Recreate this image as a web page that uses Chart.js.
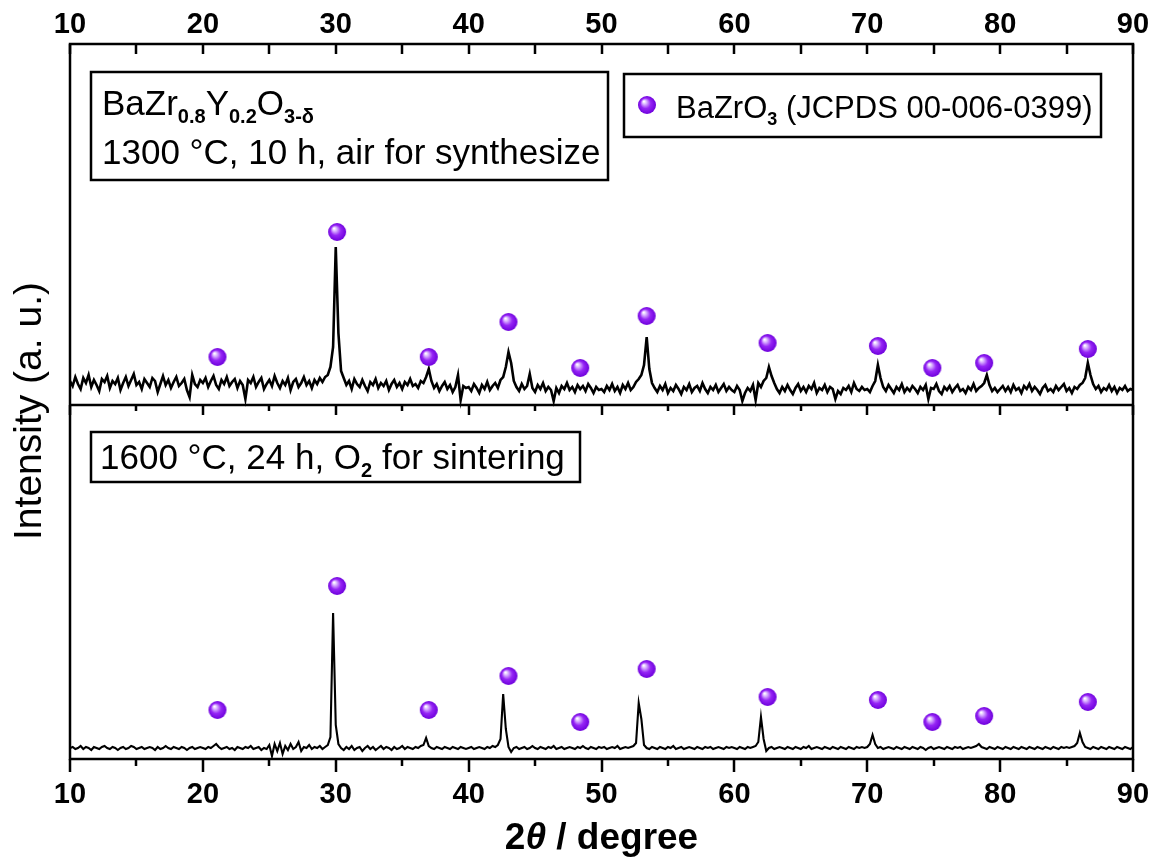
<!DOCTYPE html>
<html>
<head>
<meta charset="utf-8">
<script src="https://cdn.jsdelivr.net/npm/chart.js@4.4.1/dist/chart.umd.min.js"></script>
<style>
  html, body { margin: 0; padding: 0; background: #fff; }
</style>
</head>
<body>
<canvas id="xrd" width="1156" height="861"></canvas>
<script>
// Scan settings (2 theta, degree)
const scanStart = 10;
const scanStep = 0.2;

// 1300 C synthesized powder (upper pattern), counts a.u.
const synthCounts = [
  24,19,28,21,16,27,22,30,18,25, 20,14,26,23,29,17,24,21,27,15,
  22,28,19,25,31,20,23,16,26,22, 18,27,24,13,21,29,20,25,17,23,
  28,19,22,26,15,8,30,21,18,25,  22,27,18,24,29,20,16,25,21,28,
  19,23,26,17,24,20,6,25,22,28,  18,23,27,16,21,25,19,29,22,17,
  24,20,27,15,23,26,18,22,28,20, 24,17,25,21,27,23,28,30,38,58,
  158,72,34,27,20,24,16,26,21,18, 25,19,14,23,20,26,17,22,19,24,
  15,21,25,18,22,16,23,20,26,19, 21,17,24,22,28,36,24,17,21,14,
  19,23,16,20,13,18,30,5,19,17,  18,14,21,17,12,20,16,23,15,19,
  22,17,25,28,38,53,42,24,18,14, 21,16,19,31,17,13,20,16,22,14,
  18,15,4,17,12,19,16,22,15,18,  13,20,16,19,14,21,17,12,18,15,
  16,13,19,15,21,14,18,12,20,16, 22,15,18,23,26,30,40,68,36,22,
  17,13,19,15,21,12,17,14,20,16, 11,18,15,21,13,17,19,14,22,16,
  12,18,15,20,13,17,21,14,18,15, 13,19,15,4,12,17,14,20,5,22,
  18,24,27,38,29,22,16,12,18,14, 20,15,11,17,21,14,18,13,19,16,
  22,12,17,15,20,13,18,16,6,14,  11,17,15,19,13,22,16,14,18,15,
  16,13,19,24,40,27,18,14,20,16, 12,18,15,21,13,17,14,19,16,12,
  18,15,20,6,17,16,21,14,11,18,  15,19,13,17,20,14,16,12,18,15,
  21,14,17,19,22,30,20,14,17,13, 16,19,14,18,13,20,15,17,12,19,
  16,21,14,18,15,11,17,20,14,16, 13,19,15,18,21,14,17,12,18,16,
  20,22,27,42,30,21,16,19,13,17, 15,20,14,18,12,17,15,19,14,16,
  15
];

// 1600 C sintered pellet (lower pattern), counts a.u.
const sinterCounts = [
  11,12,10,11,13,10,12,11,9,12, 11,10,12,13,11,10,12,11,9,11,
  12,10,11,13,12,10,11,12,10,11, 12,11,9,12,10,11,13,11,10,12,
  11,10,12,11,9,11,12,10,11,12, 11,10,12,11,13,15,12,10,11,12,
  10,11,9,12,11,10,12,11,13,10, 11,12,9,11,10,14,3,15,8,16,
  5,13,9,15,10,12,17,8,12,11,   14,10,12,11,13,10,12,14,22,146,
  34,15,11,9,12,10,13,9,11,12,  8,11,13,10,12,9,11,13,10,12,
  11,9,12,10,11,13,10,12,11,10, 12,11,13,14,21,13,11,10,12,11,
  10,12,11,10,12,11,10,12,11,10, 11,12,10,11,12,11,10,12,11,13,
  12,14,20,65,30,12,7,11,12,10, 11,12,10,11,13,11,10,12,11,10,
  12,11,13,10,11,12,10,11,12,11, 10,12,11,13,11,10,12,11,10,12,
  11,12,10,11,12,11,13,10,11,12, 11,12,13,16,56,40,14,11,10,12,
  11,10,12,11,10,12,11,13,10,11, 12,10,11,12,11,10,12,11,10,12,
  11,12,10,11,12,11,10,12,11,12, 11,10,12,11,10,12,11,12,13,17,
  42,20,8,11,12,10,11,12,11,10, 12,11,10,12,11,10,12,11,13,10,
  11,12,11,10,12,11,10,12,11,10, 12,11,10,12,11,10,12,11,12,11,
  12,15,24,15,11,12,10,11,12,11, 10,12,11,10,12,11,10,12,11,10,
  12,11,9,11,12,10,11,12,11,10, 12,11,10,12,11,12,10,11,12,11,
  12,13,15,12,11,10,12,11,10,12, 11,10,12,11,10,12,11,10,12,11,
  10,12,11,10,12,11,10,12,11,10, 12,11,10,12,11,12,11,12,13,16,
  26,17,12,11,10,12,11,10,12,11, 10,12,11,10,12,11,10,12,11,10,
  12
];

// BaZrO3 reference reflections (JCPDS 00-006-0399) and marker heights
const peakAngles = [21.1, 30.1, 37.0, 43.0, 48.4, 53.4, 62.5, 70.8, 74.9, 78.8, 86.6];
const synthMarkerHeights = [48, 173, 48, 83, 37, 89, 62, 59, 37, 42, 56];
const sinterMarkerHeights = [49, 173, 49, 83, 37, 90, 62, 59, 37, 43, 57];

// upper pattern is shifted up by this amount
const panelOffset = 354;
const intensityMax = 715;

const textFont = "'Liberation Sans', Arial, sans-serif";

function angleAt(i) {
  return +(scanStart + i * scanStep).toFixed(1);
}

function makeSphere(r) {
  const c = document.createElement('canvas');
  c.width = c.height = 2 * r + 2;
  const g = c.getContext('2d');
  const cx = r + 1, cy = r + 1;
  const grad = g.createRadialGradient(cx - r * 0.35, cy - r * 0.4, r * 0.05, cx, cy, r);
  grad.addColorStop(0, '#ffffff');
  grad.addColorStop(0.22, '#d6acff');
  grad.addColorStop(0.55, '#9626f5');
  grad.addColorStop(1, '#6e00dc');
  g.fillStyle = grad;
  g.beginPath();
  g.arc(cx, cy, r, 0, Math.PI * 2);
  g.fill();
  return c;
}
const sphere = makeSphere(9);

// text with subscripts
function drawRich(ctx, parts, x, y, size) {
  parts.forEach(p => {
    const s = p.sub ? Math.round(size * 0.58) : size;
    ctx.font = (p.sub ? 'bold ' : '') + s + 'px ' + textFont;
    ctx.fillText(p.t, x, y + (p.sub ? size * 0.22 : 0));
    x += ctx.measureText(p.t).width;
  });
}

const decor = {
  id: 'decor',
  afterDraw(chart) {
    const ctx = chart.ctx;
    const a = chart.chartArea;
    const xs = chart.scales.x;
    const divY = Math.round(chart.scales.y.getPixelForValue(panelOffset));
    ctx.save();
    ctx.strokeStyle = '#000';
    ctx.fillStyle = '#000';

    // frame + divider
    ctx.lineWidth = 2.5;
    ctx.strokeRect(a.left, a.top, a.right - a.left, a.bottom - a.top);
    ctx.beginPath();
    ctx.moveTo(a.left, divY);
    ctx.lineTo(a.right, divY);
    ctx.stroke();

    // tick marks
    for (let v = 10; v <= 90; v += 5) {
      const px = Math.round(xs.getPixelForValue(v));
      const major = v % 10 === 0;
      ctx.beginPath();
      ctx.moveTo(px, a.top); ctx.lineTo(px, a.top + 10);
      ctx.moveTo(px, divY); ctx.lineTo(px, divY + (major ? 10 : 6));
      ctx.moveTo(px, a.bottom); ctx.lineTo(px, a.bottom + (major ? 13 : 7));
      ctx.stroke();
    }

    // sample boxes
    ctx.textBaseline = 'alphabetic';
    ctx.textAlign = 'left';
    ctx.strokeRect(91, 72, 517, 108);
    drawRich(ctx, [{t: 'BaZr'}, {t: '0.8', sub: true}, {t: 'Y'}, {t: '0.2', sub: true},
      {t: 'O'}, {t: '3-\u03b4', sub: true}], 102, 115, 35);
    drawRich(ctx, [{t: '1300 \u00b0C, 10 h, air for synthesize'}], 102, 164, 35);

    ctx.strokeRect(624, 74, 477, 63);
    ctx.drawImage(sphere, 647 - sphere.width / 2, 105 - sphere.height / 2);
    drawRich(ctx, [{t: 'BaZrO'}, {t: '3', sub: true}, {t: ' (JCPDS 00-006-0399)'}], 676, 118, 31);

    ctx.strokeRect(91, 432, 489, 50);
    drawRich(ctx, [{t: '1600 \u00b0C, 24 h, O'}, {t: '2', sub: true}, {t: ' for sintering'}], 100, 469, 35);

    // y title
    ctx.save();
    ctx.translate(30, 411);
    ctx.rotate(-Math.PI / 2);
    ctx.textAlign = 'center';
    ctx.textBaseline = 'middle';
    ctx.font = '39px ' + textFont;
    ctx.fillText('Intensity (a. u.)', 0, 0);
    ctx.restore();

    // x title with italic theta
    const pieces = [
      {t: '2', f: 'bold 37px ' + textFont},
      {t: '\u03b8', f: 'italic bold 37px ' + textFont},
      {t: ' / degree', f: 'bold 37px ' + textFont}
    ];
    let w = 0;
    pieces.forEach(p => { ctx.font = p.f; w += ctx.measureText(p.t).width; });
    let x = (a.left + a.right) / 2 - w / 2;
    ctx.textBaseline = 'alphabetic';
    pieces.forEach(p => {
      ctx.font = p.f;
      ctx.fillText(p.t, x, 849);
      x += ctx.measureText(p.t).width;
    });
    ctx.restore();
  }
};

const synthLine = synthCounts.map((v, i) => ({x: angleAt(i), y: v + panelOffset}));
const sinterLine = sinterCounts.map((v, i) => ({x: angleAt(i), y: v}));
const synthMarks = peakAngles.map((t, i) => ({x: t, y: synthMarkerHeights[i] + panelOffset}));
const sinterMarks = peakAngles.map((t, i) => ({x: t, y: sinterMarkerHeights[i]}));

const tickFont = {family: textFont, size: 29, weight: 'bold'};
const noSidePadding = s => { s.paddingLeft = 0; s.paddingRight = 0; };

new Chart(document.getElementById('xrd'), {
  type: 'line',
  data: {
    datasets: [
      {type: 'scatter', label: 'BaZrO3', data: synthMarks, pointStyle: sphere, pointRadius: 9, order: 0},
      {type: 'scatter', label: 'BaZrO3 ', data: sinterMarks, pointStyle: sphere, pointRadius: 9, order: 0},
      {label: '1300 C synthesized', data: synthLine, borderColor: '#000', borderWidth: 2.6,
        pointRadius: 0, tension: 0, fill: false, order: 1},
      {label: '1600 C sintered', data: sinterLine, borderColor: '#000', borderWidth: 2.1,
        pointRadius: 0, tension: 0, fill: false, order: 1}
    ]
  },
  options: {
    responsive: false,
    animation: false,
    devicePixelRatio: 1,
    events: [],
    layout: {padding: {left: 70, right: 23, top: 0, bottom: 0}},
    plugins: {legend: {display: false}, tooltip: {enabled: false}},
    scales: {
      x: {
        type: 'linear', position: 'bottom', min: 10, max: 90,
        ticks: {stepSize: 10, font: tickFont, color: '#000', padding: 19},
        grid: {display: false, drawTicks: false},
        border: {display: false},
        afterFit: s => { s.height = 102; noSidePadding(s); }
      },
      x2: {
        type: 'linear', position: 'top', min: 10, max: 90,
        ticks: {stepSize: 10, font: tickFont, color: '#000', padding: 2},
        grid: {display: false, drawTicks: false},
        border: {display: false},
        afterFit: s => { s.height = 44; noSidePadding(s); }
      },
      y: {type: 'linear', min: 0, max: intensityMax, display: false}
    }
  },
  plugins: [decor]
});
</script>
</body>
</html>
